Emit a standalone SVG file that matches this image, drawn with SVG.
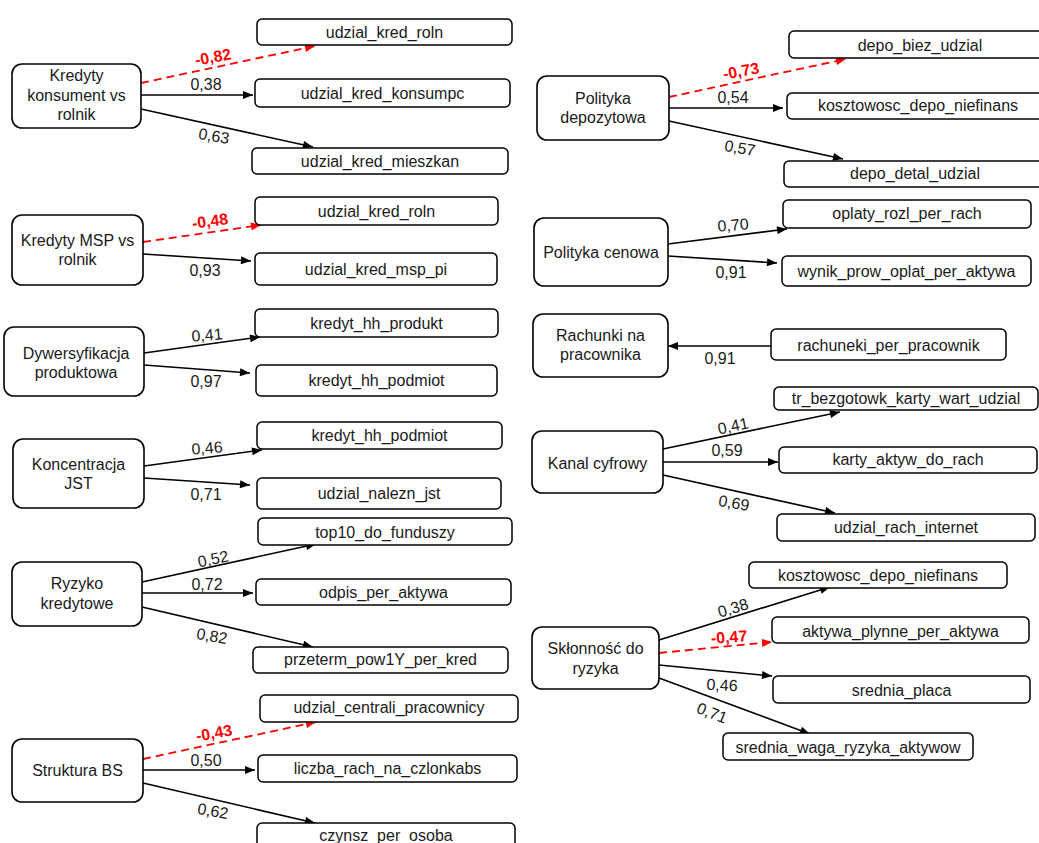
<svg xmlns="http://www.w3.org/2000/svg" width="1039" height="843" viewBox="0 0 1039 843">
<style>
.lat{fill:#fff;stroke:#000;stroke-width:1.6}
.var{fill:#fff;stroke:#000;stroke-width:1.5}
text{font-family:"Liberation Sans",Arial,sans-serif;font-size:16px;fill:#1a1a1a;text-anchor:middle}
.neg{fill:#ff0000;font-weight:bold}
.c{fill:none;stroke:#000;stroke-width:1.6;marker-end:url(#ah)}
.d{fill:none;stroke:#ff0000;stroke-width:1.8;stroke-dasharray:8 5;marker-end:url(#ahr)}
</style>
<defs>
<marker id="ah" viewBox="0 0 10 8" refX="10" refY="4" markerWidth="11" markerHeight="8" markerUnits="userSpaceOnUse" orient="auto"><path d="M0,0 L10,4 L0,8 Z" fill="#000"/></marker>
<marker id="ahr" viewBox="0 0 10 8" refX="10" refY="4" markerWidth="11" markerHeight="8" markerUnits="userSpaceOnUse" orient="auto"><path d="M0,0 L10,4 L0,8 Z" fill="#ff0000"/></marker>
</defs>
<rect width="1039" height="843" fill="#fff"/>

<g id="connectors">
<line class="d" x1="141" y1="83" x2="315" y2="46"/>
<line class="c" x1="141" y1="95" x2="253" y2="95"/>
<line class="c" x1="141" y1="109" x2="313" y2="147"/>
<line class="d" x1="143" y1="242" x2="261" y2="225"/>
<line class="c" x1="143" y1="254" x2="251" y2="261"/>
<line class="c" x1="144" y1="353" x2="260" y2="337"/>
<line class="c" x1="144" y1="365" x2="250" y2="373"/>
<line class="c" x1="144" y1="466" x2="262" y2="450"/>
<line class="c" x1="144" y1="478" x2="250" y2="485"/>
<line class="c" x1="142" y1="582" x2="316" y2="544"/>
<line class="c" x1="142" y1="593" x2="253" y2="593"/>
<line class="c" x1="142" y1="607" x2="313" y2="647"/>
<line class="d" x1="143" y1="759" x2="316" y2="722"/>
<line class="c" x1="143" y1="770" x2="255" y2="770"/>
<line class="c" x1="143" y1="783" x2="315" y2="823"/>
<line class="d" x1="669" y1="97" x2="846" y2="59"/>
<line class="c" x1="669" y1="108" x2="783" y2="108"/>
<line class="c" x1="669" y1="121" x2="843" y2="159"/>
<line class="c" x1="668" y1="244" x2="787" y2="229"/>
<line class="c" x1="668" y1="256" x2="777" y2="263"/>
<line class="c" x1="771" y1="346" x2="668" y2="346"/>
<line class="c" x1="663" y1="449" x2="840" y2="412"/>
<line class="c" x1="663" y1="462" x2="778" y2="462"/>
<line class="c" x1="663" y1="475" x2="835" y2="513"/>
<line class="c" x1="659" y1="640" x2="830" y2="587"/>
<line class="d" x1="659" y1="653" x2="772" y2="642"/>
<line class="c" x1="659" y1="665" x2="772" y2="676"/>
<line class="c" x1="659" y1="678" x2="810" y2="734"/>

<text class="neg" transform="translate(213,57) rotate(-10)" y="5.5">-0,82</text>
<text transform="translate(206,84)" y="5.5">0,38</text>
<text transform="translate(214,136) rotate(10)" y="5.5">0,63</text>
<text class="neg" transform="translate(210,221) rotate(-8)" y="5.5">-0,48</text>
<text transform="translate(205,270)" y="5.5">0,93</text>
<text transform="translate(207,335) rotate(-5)" y="5.5">0,41</text>
<text transform="translate(206,381)" y="5.5">0,97</text>
<text transform="translate(207,448) rotate(-5)" y="5.5">0,46</text>
<text transform="translate(206,494)" y="5.5">0,71</text>
<text transform="translate(213,559) rotate(-12)" y="5.5">0,52</text>
<text transform="translate(207,584)" y="5.5">0,72</text>
<text transform="translate(212,636) rotate(10)" y="5.5">0,82</text>
<text class="neg" transform="translate(214,733) rotate(-10)" y="5.5">-0,43</text>
<text transform="translate(206,760)" y="5.5">0,50</text>
<text transform="translate(213,811) rotate(10)" y="5.5">0,62</text>
<text class="neg" transform="translate(741,71) rotate(-10)" y="5.5">-0,73</text>
<text transform="translate(733,97)" y="5.5">0,54</text>
<text transform="translate(740,148) rotate(10)" y="5.5">0,57</text>
<text transform="translate(733,225) rotate(-5)" y="5.5">0,70</text>
<text transform="translate(731,272)" y="5.5">0,91</text>
<text transform="translate(720,358)" y="5.5">0,91</text>
<text transform="translate(733,426) rotate(-12)" y="5.5">0,41</text>
<text transform="translate(727,450)" y="5.5">0,59</text>
<text transform="translate(734,503) rotate(10)" y="5.5">0,69</text>
<text transform="translate(733,608) rotate(-17)" y="5.5">0,38</text>
<text class="neg" transform="translate(729,637) rotate(-4)" y="5.5">-0,47</text>
<text transform="translate(722,685) rotate(3)" y="5.5">0,46</text>
<text transform="translate(712,713) rotate(22)" y="5.5">0,71</text>
</g>

<g id="n-kredyty-konsument"><rect class="lat" x="12" y="64" width="129" height="64" rx="10"/><text x="76.5" y="81">Kredyty</text><text x="76.5" y="100.5">konsument vs</text><text x="76.5" y="120">rolnik</text></g>
<g id="n-kredyty-msp"><rect class="lat" x="12" y="215" width="131" height="70" rx="10"/><text x="77.5" y="245.5">Kredyty MSP vs</text><text x="77.5" y="264.5">rolnik</text></g>
<g id="n-dywersyfikacja"><rect class="lat" x="4" y="327" width="140" height="69" rx="10"/><text x="76" y="358.5">Dywersyfikacja</text><text x="76" y="377.5">produktowa</text></g>
<g id="n-koncentracja"><rect class="lat" x="13" y="439" width="131" height="69" rx="10"/><text x="78.5" y="469.5">Koncentracja</text><text x="78.5" y="488.5">JST</text></g>
<g id="n-ryzyko"><rect class="lat" x="12" y="562" width="130" height="64" rx="10"/><text x="77" y="588.5">Ryzyko</text><text x="77" y="608.5">kredytowe</text></g>
<g id="n-struktura"><rect class="lat" x="12" y="739" width="131" height="63" rx="10"/><text x="77.5" y="775.5">Struktura BS</text></g>
<g id="n-polityka-dep"><rect class="lat" x="537" y="76" width="132" height="64" rx="10"/><text x="603" y="103.5">Polityka</text><text x="603" y="122.5">depozytowa</text></g>
<g id="n-polityka-cen"><rect class="lat" x="534" y="218" width="134" height="68" rx="10"/><text x="601" y="257.5">Polityka cenowa</text></g>
<g id="n-rachunki"><rect class="lat" x="533" y="314" width="135" height="63" rx="10"/><text x="600.5" y="340.5">Rachunki na</text><text x="600.5" y="359.5">pracownika</text></g>
<g id="n-kanal"><rect class="lat" x="532" y="431" width="131" height="62" rx="10"/><text x="597.5" y="468.5">Kanal cyfrowy</text></g>
<g id="n-sklonnosc"><rect class="lat" x="532" y="627" width="127" height="62" rx="10"/><text x="595.5" y="653.5">Skłonność do</text><text x="595.5" y="673.5">ryzyka</text></g>

<g id="v1"><rect class="var" x="257" y="19" width="255" height="26" rx="5"/><text x="384.5" y="37.5">udzial_kred_roln</text></g>
<g id="v2"><rect class="var" x="255" y="79" width="255" height="28" rx="5"/><text x="382.5" y="98.5">udzial_kred_konsumpc</text></g>
<g id="v3"><rect class="var" x="252" y="148" width="256" height="26" rx="5"/><text x="380" y="166.5">udzial_kred_mieszkan</text></g>
<g id="v4"><rect class="var" x="255" y="197" width="243" height="28" rx="5"/><text x="376.5" y="216.5">udzial_kred_roln</text></g>
<g id="v5"><rect class="var" x="255" y="253" width="242" height="32" rx="5"/><text x="376" y="274.5">udzial_kred_msp_pi</text></g>
<g id="v6"><rect class="var" x="255" y="309" width="243" height="28" rx="5"/><text x="376.5" y="328.5">kredyt_hh_produkt</text></g>
<g id="v7"><rect class="var" x="256" y="365" width="241" height="31" rx="5"/><text x="376.5" y="385.5">kredyt_hh_podmiot</text></g>
<g id="v8"><rect class="var" x="257" y="422" width="245" height="27" rx="5"/><text x="379.5" y="440.5">kredyt_hh_podmiot</text></g>
<g id="v9"><rect class="var" x="257" y="478" width="244" height="31" rx="5"/><text x="379" y="498.5">udzial_nalezn_jst</text></g>
<g id="v10"><rect class="var" x="258" y="518" width="254" height="27" rx="5"/><text x="385" y="537.5">top10_do_funduszy</text></g>
<g id="v11"><rect class="var" x="256" y="579" width="255" height="26" rx="5"/><text x="383.5" y="597.5">odpis_per_aktywa</text></g>
<g id="v12"><rect class="var" x="253" y="647" width="255" height="26" rx="5"/><text x="380.5" y="664.5">przeterm_pow1Y_per_kred</text></g>
<g id="v13"><rect class="var" x="260" y="695" width="258" height="27" rx="5"/><text x="389" y="712.5">udzial_centrali_pracownicy</text></g>
<g id="v14"><rect class="var" x="258" y="755" width="259" height="27" rx="5"/><text x="387.5" y="773.5">liczba_rach_na_czlonkabs</text></g>
<g id="v15"><rect class="var" x="257" y="823" width="258" height="30" rx="5"/><text x="386" y="840.5">czynsz_per_osoba</text></g>
<g id="v16"><rect class="var" x="789" y="31" width="258" height="27" rx="5"/><text x="920" y="50.5">depo_biez_udzial</text></g>
<g id="v17"><rect class="var" x="787" y="93" width="260" height="26" rx="5"/><text x="918" y="110.5">kosztowosc_depo_niefinans</text></g>
<g id="v18"><rect class="var" x="784" y="161" width="263" height="26" rx="5"/><text x="915" y="178.5">depo_detal_udzial</text></g>
<g id="v19"><rect class="var" x="783" y="200" width="248" height="28" rx="5"/><text x="907" y="218.5">oplaty_rozl_per_rach</text></g>
<g id="v20"><rect class="var" x="782" y="256" width="249" height="30" rx="5"/><text x="906.5" y="276.5">wynik_prow_oplat_per_aktywa</text></g>
<g id="v21"><rect class="var" x="771" y="329" width="235" height="31" rx="5"/><text x="888.5" y="350.5">rachuneki_per_pracownik</text></g>
<g id="v22"><rect class="var" x="774" y="387" width="264" height="23" rx="5"/><text x="906" y="403.5">tr_bezgotowk_karty_wart_udzial</text></g>
<g id="v23"><rect class="var" x="779" y="447" width="258" height="26" rx="5"/><text x="908" y="464.5">karty_aktyw_do_rach</text></g>
<g id="v24"><rect class="var" x="777" y="514" width="258" height="27" rx="5"/><text x="906" y="532.5">udzial_rach_internet</text></g>
<g id="v25"><rect class="var" x="749" y="562" width="258" height="26" rx="5"/><text x="878" y="580.5">kosztowosc_depo_niefinans</text></g>
<g id="v26"><rect class="var" x="772" y="617" width="257" height="26" rx="5"/><text x="900.5" y="636.5">aktywa_plynne_per_aktywa</text></g>
<g id="v27"><rect class="var" x="773" y="676" width="257" height="27" rx="5"/><text x="901.5" y="695.5">srednia_placa</text></g>
<g id="v28"><rect class="var" x="723" y="733" width="250" height="27" rx="5"/><text x="848" y="752.5">srednia_waga_ryzyka_aktywow</text></g>
</svg>
